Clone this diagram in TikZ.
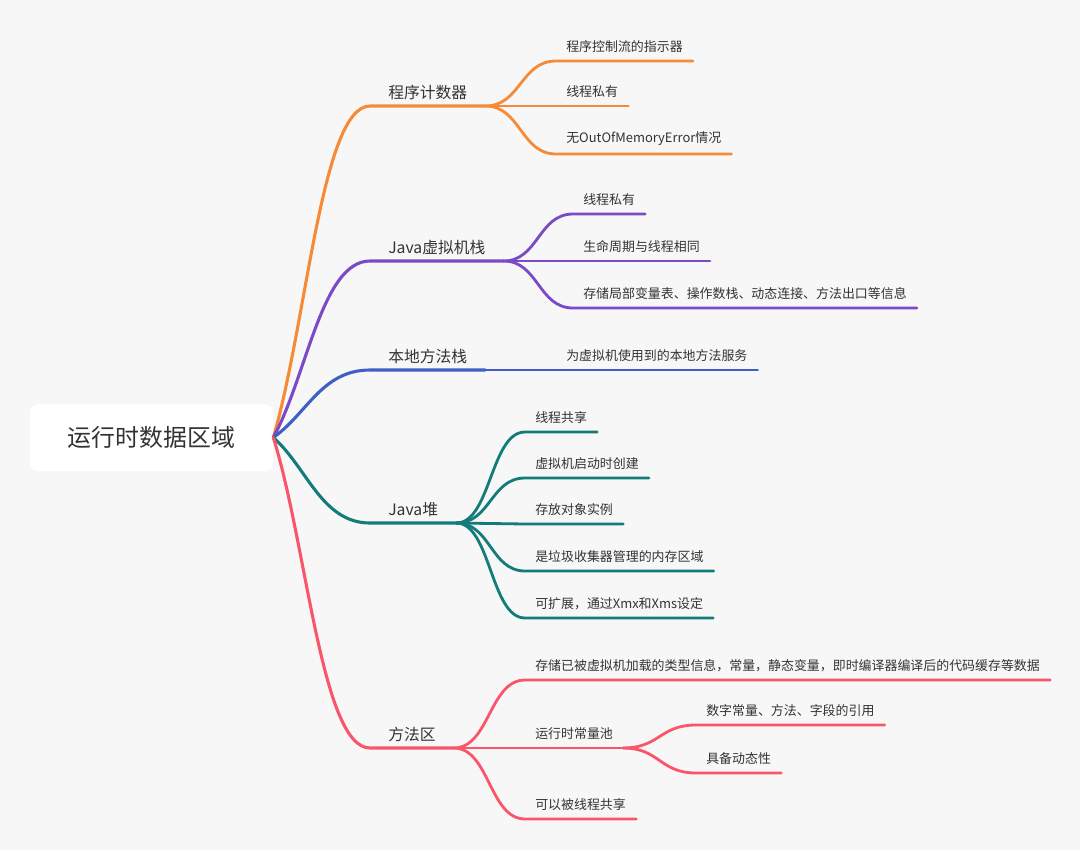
\documentclass[tikz,border=0pt]{standalone}
\usepackage{fontspec}
\setmainfont{Noto Sans CJK SC}
\usepackage{xcolor}
\usetikzlibrary{calc}
\definecolor{paper}{HTML}{F7F7F7}
\definecolor{inkgray}{HTML}{333333}
\definecolor{pcorange}{HTML}{F68A36}
\definecolor{stackpurple}{HTML}{7B4AC6}
\definecolor{nativeblue}{HTML}{3F5EC6}
\definecolor{heapteal}{HTML}{127C7A}
\definecolor{methodred}{HTML}{F9566A}

\begin{document}
\begin{tikzpicture}[
    x=0.025cm, y=-0.025cm,
    root/.style={rectangle, rounded corners=6pt, fill=white, minimum width=6.075cm,
                minimum height=1.675cm, text=inkgray, font=\fontsize{17pt}{20pt}\selectfont},
    topic/.style={anchor=south west, inner xsep=0.45cm, inner ysep=4.5pt, text=inkgray,
                font=\fontsize{11.2pt}{13pt}\selectfont},
    leaf/.style={anchor=south west, inner xsep=0.25cm, inner ysep=5.8pt, text=inkgray,
                font=\fontsize{9.2pt}{11pt}\selectfont},
    rootlink/.style={line width=2.2pt, line cap=round,
                to path={.. controls ($(\tikztostart)!0.35!(\tikztotarget)$)
                and ($(\tikztotarget)!0.5!(\tikztostart |- \tikztotarget)$) .. (\tikztotarget)}},
    leaflink/.style={line width=2pt, line cap=round,
                to path={.. controls ($(\tikztostart)!0.5!(\tikztotarget |- \tikztostart)$)
                and ($(\tikztotarget)!0.5!(\tikztostart |- \tikztotarget)$) .. (\tikztotarget)}}
  ]
  % Background
  \fill[paper] (0,0) rectangle (1080,850);
  \useasboundingbox (0,0) rectangle (1080,850);

  % Central root
  \node[root] (root) at (151.5,437.5) {运行时数据区域};

  % Main topics
  \node[topic] (pc)   at (370,106) {程序计数器};
  \node[topic] (jvms) at (370,261) {Java虚拟机栈};
  \node[topic] (nms)  at (370,370) {本地方法栈};
  \node[topic] (heap) at (370,523) {Java堆};
  \node[topic] (ma)   at (370,748) {方法区};

  % Program counter
  \node[leaf] (pc1) at (556,61)  {程序控制流的指示器};
  \node[leaf] (pc2) at (556,106) {线程私有};
  \node[leaf] (pc3) at (556,154) {无OutOfMemoryError情况};

  % JVM stack
  \node[leaf] (jvms1) at (573,214) {线程私有};
  \node[leaf] (jvms2) at (573,261) {生命周期与线程相同};
  \node[leaf] (jvms3) at (573,308) {存储局部变量表、操作数栈、动态连接、方法出口等信息};

  % Native method stack
  \node[leaf] (nms1) at (556,370) {为虚拟机使用到的本地方法服务};

  % Heap
  \node[leaf] (heap1) at (525,432) {线程共享};
  \node[leaf] (heap2) at (525,478) {虚拟机启动时创建};
  \node[leaf] (heap3) at (525,524) {存放对象实例};
  \node[leaf] (heap4) at (525,571) {是垃圾收集器管理的内存区域};
  \node[leaf] (heap5) at (525,618) {可扩展，通过Xmx和Xms设定};

  % Method area
  \node[leaf] (ma1)   at (525,680) {存储已被虚拟机加载的类型信息，常量，静态变量，即时编译器编译后的代码缓存等数据};
  \node[leaf] (pool)  at (525,748) {运行时常量池};
  \node[leaf] (ma3)   at (525,819) {可以被线程共享};
  \node[leaf] (pool1) at (696,725) {数字常量、方法、字段的引用};
  \node[leaf] (pool2) at (696,773) {具备动态性};

  % Connections
  \draw[rootlink, pcorange]    (root.east) to (pc.south west) -- (pc.south east);
  \draw[rootlink, stackpurple] (root.east) to (jvms.south west) -- (jvms.south east);
  \draw[rootlink, nativeblue]  (root.east) to (nms.south west) -- (nms.south east);
  \draw[rootlink, heapteal]    (root.east) to (heap.south west) -- (heap.south east);
  \draw[rootlink, methodred]   (root.east) to (ma.south west) -- (ma.south east);

  \foreach \n in {pc1, pc2, pc3}
    \draw[leaflink, pcorange] (pc.south east) to (\n.south west) -- (\n.south east);
  \foreach \n in {jvms1, jvms2, jvms3}
    \draw[leaflink, stackpurple] (jvms.south east) to (\n.south west) -- (\n.south east);
  \draw[leaflink, nativeblue] (nms.south east) to (nms1.south west) -- (nms1.south east);
  \foreach \n in {heap1, heap2, heap3, heap4, heap5}
    \draw[leaflink, heapteal] (heap.south east) to (\n.south west) -- (\n.south east);
  \foreach \n in {ma1, pool, ma3}
    \draw[leaflink, methodred] (ma.south east) to (\n.south west) -- (\n.south east);
  \foreach \n in {pool1, pool2}
    \draw[leaflink, methodred] (pool.south east) to (\n.south west) -- (\n.south east);
\end{tikzpicture}
\end{document}
